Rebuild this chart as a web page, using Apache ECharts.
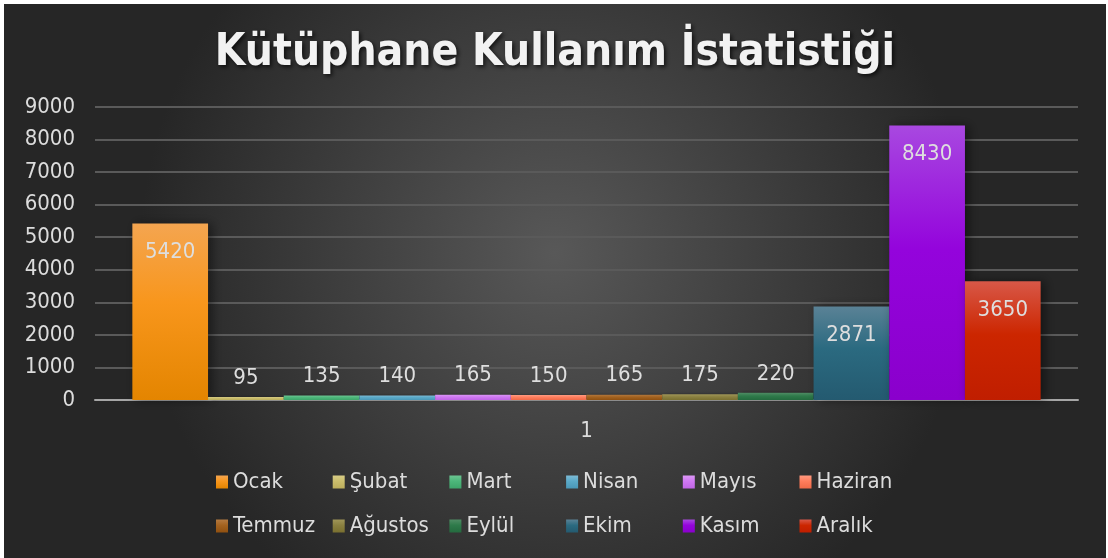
<!DOCTYPE html>
<html>
<head>
<meta charset="utf-8">
<script src="https://cdn.jsdelivr.net/npm/echarts@6/dist/echarts.min.js"></script>
<style type="text/css">
html, body{margin:0;padding:0;background:#fff;}
#main{position:absolute;left:4px;top:4px;width:1102px;height:554px;}
</style>
</head>
<body>
<div id="main"></div>
<script>
// veriler
var categories = ['1'];
var months = ['Ocak', 'Şubat', 'Mart', 'Nisan', 'Mayıs', 'Haziran',
              'Temmuz', 'Ağustos', 'Eylül', 'Ekim', 'Kasım', 'Aralık'];
var values = [5420, 95, 135, 140, 165, 150, 165, 175, 220, 2871, 8430, 3650];
var yTicks = [0, 9000, 1000];  // min, max, interval

// renkler (üst açık, alt koyu)
var colors = [
    ['#f4a550', '#f8961c', '#e48500'],
    ['#d8cc86', '#cabd6c', '#bcae5c'],
    ['#6cc592', '#4cb67a', '#3ea56a'],
    ['#7dbbd6', '#5aa9c8', '#4a98b8'],
    ['#dc98f6', '#cf78f2', '#c065e6'],
    ['#ff9a80', '#ff7d5c', '#f06a48'],
    ['#b47a40', '#a3621f', '#905010'],
    ['#a09658', '#8a8040', '#7a7030'],
    ['#4f8c64', '#2e7a4a', '#246a3e'],
    ['#5a8296', '#2b6a80', '#245a70'],
    ['#a848e0', '#9404dc', '#8a00cc'],
    ['#d85848', '#cc2600', '#c01e00']
];

var font = '"DejaVu Sans Condensed", "DejaVu Sans", sans-serif';
var chart = echarts.init(document.getElementById('main'));

var series = [];
for (var i = 0; i < months.length; i++) {
    var big = values[i] > 1000;
    series.push({
        name: months[i],
        type: 'bar',
        data: [values[i]],
        barGap: '0%',
        barCategoryGap: '7.6%',
        itemStyle: {
            color: new echarts.graphic.LinearGradient(0, 0, 0, 1, [
                {offset: 0, color: colors[i][0]},
                {offset: 0.45, color: colors[i][1]},
                {offset: 1, color: colors[i][2]}
            ]),
            shadowColor: 'rgba(0,0,0,0.45)',
            shadowBlur: big ? 10 : 3,
            shadowOffsetX: 4
        },
        label: {
            show: true,
            position: big ? 'insideTop' : 'top',
            distance: big ? 18 : 8,
            color: '#dedede',
            fontFamily: font,
            fontSize: 22
        }
    });
}

// her ay için ayrı lejant: 6'lı iki satır, sabit aralıklı
var legends = [];
for (var k = 0; k < months.length; k++) {
    legends.push({
        data: [months[k]],
        left: 207 + (k % 6) * 116.7,
        top: k < 6 ? 462 : 506,
        itemWidth: 12,
        itemHeight: 13,
        icon: 'rect',
        textStyle: {
            color: '#dcdcdc',
            fontFamily: font,
            fontSize: 22
        }
    });
}

var option = {
    backgroundColor: new echarts.graphic.RadialGradient(0.5, 0.45, 0.75, [
        {offset: 0, color: '#585858'},
        {offset: 1, color: '#262626'}
    ]),
    title: {
        text: 'Kütüphane Kullanım İstatistiği',
        left: 'center',
        top: 23,
        textStyle: {
            color: '#f2f2f2',
            fontFamily: font,
            fontSize: 44,
            fontWeight: 'bold',
            textShadowColor: 'rgba(0,0,0,0.7)',
            textShadowBlur: 4,
            textShadowOffsetX: 2,
            textShadowOffsetY: 2
        }
    },
    legend: legends,
    grid: {
        left: 91,
        right: 28,
        top: 103,
        bottom: 158,
        containLabel: false
    },
    xAxis: {
        type: 'category',
        data: categories,
        axisLine: {lineStyle: {color: '#a6a6a6', width: 2}},
        axisTick: {show: false},
        axisLabel: {
            color: '#dcdcdc',
            fontFamily: font,
            fontSize: 22,
            margin: 20
        }
    },
    yAxis: {
        type: 'value',
        min: yTicks[0],
        max: yTicks[1],
        interval: yTicks[2],
        axisLine: {show: false},
        axisTick: {show: false},
        splitLine: {lineStyle: {color: '#5a5a5a', width: 2}},
        axisLabel: {
            color: '#dcdcdc',
            fontFamily: font,
            fontSize: 22,
            margin: 20,
            formatter: function (v) { return String(v); }
        }
    },
    series: series
};

chart.setOption(option);
</script>
</body>
</html>
